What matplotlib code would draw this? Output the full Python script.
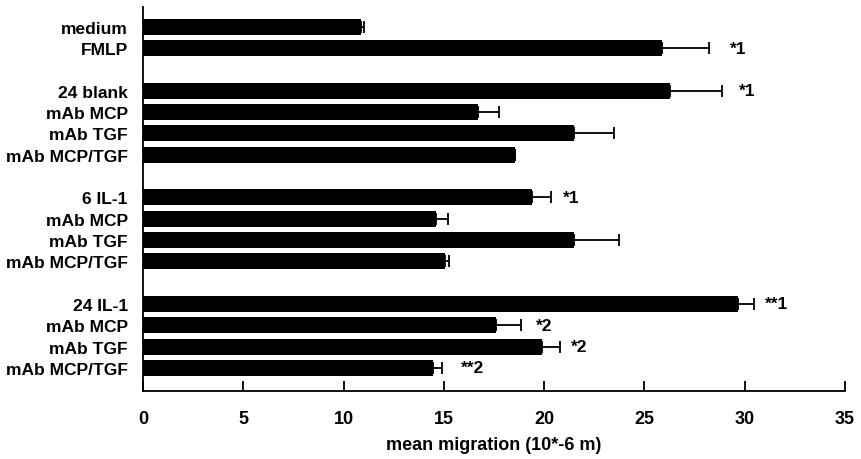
import numpy as np
import matplotlib.pyplot as plt

plt.rcParams['font.family'] = ['Liberation Sans', 'DejaVu Sans']
plt.rcParams['font.weight'] = 'bold'

# data
labels = ['medium', 'FMLP',
          '24 blank', 'mAb MCP', 'mAb TGF', 'mAb MCP/TGF',
          '6 IL-1', 'mAb MCP', 'mAb TGF', 'mAb MCP/TGF',
          '24 IL-1', 'mAb MCP', 'mAb TGF', 'mAb MCP/TGF']
positions = [0, 1, 3, 4, 5, 6, 8, 9, 10, 11, 13, 14, 15, 16]
means = [10.85, 25.9, 26.3, 16.7, 21.5, 18.55, 19.4, 14.6, 21.5, 15.05,
         29.65, 17.6, 19.9, 14.45]
errors = [0.15, 2.35, 2.6, 1.05, 2.0, 0.0, 0.95, 0.6, 2.25, 0.2,
          0.8, 1.25, 0.9, 0.45]
marks = ['', '*1', '*1', '', '', '', '*1', '', '', '',
         '**1', '*2', '*2', '**2']
mark_x = [0, 29.25, 29.7, 0, 0, 0, 20.95, 0, 0, 0, 31.0, 19.6, 21.35, 15.85]

fig = plt.figure(figsize=(8.62, 4.6), dpi=100)
ax = fig.add_axes([0.166, 0.148, 0.814, 0.835])

ax.barh(positions, means, height=0.75, color='black')
ax.errorbar(means, positions, xerr=[np.zeros(len(errors)), errors], fmt='none',
            ecolor='black', elinewidth=1.3, capsize=4, capthick=1.3)

fs = 12.5
for p, m, mx in zip(positions, marks, mark_x):
    if m:
        ax.text(mx, p, m, va='center', ha='left', fontsize=fs, fontweight='bold')

ax.set_yticks(positions)
ax.set_yticklabels(labels, fontsize=fs, fontweight='bold')
ax.tick_params(axis='y', length=0, pad=11)
ax.set_ylim(17.08, -0.94)

ax.set_xlim(0, 35)
ax.set_xticks(range(0, 36, 5))
ax.tick_params(axis='x', direction='in', length=7, width=1.3, pad=14, labelsize=13)
for t in ax.get_xticklabels():
    t.set_fontweight('bold')
ax.set_xlabel('mean migration (10*-6 m)', fontsize=13, fontweight='bold', labelpad=6)

ax.spines['top'].set_visible(False)
ax.spines['right'].set_visible(False)
ax.spines['left'].set_linewidth(1.3)
ax.spines['bottom'].set_linewidth(1.3)

plt.savefig('out.png', dpi=100)
